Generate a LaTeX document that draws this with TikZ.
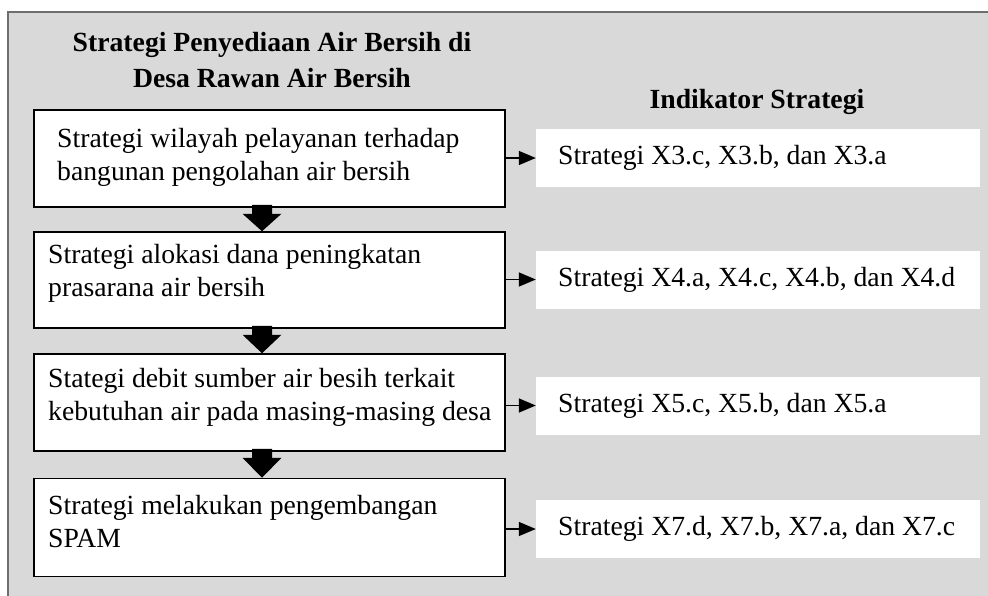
\documentclass[tikz,border=0pt]{standalone}
\usepackage{fontspec}
\setmainfont{Liberation Serif}
\usetikzlibrary{arrows.meta,calc}
\definecolor{bggrey}{HTML}{D9D9D9}
\definecolor{framegrey}{HTML}{6E6E6E}
\tikzset{
  lbox/.style={draw=black, line width=1.5pt, fill=white, minimum width=471pt, minimum height=#1, inner sep=0pt},
  rbox/.style={draw=none, fill=white, minimum width=444pt, minimum height=58pt, inner sep=0pt},
  txt/.style={anchor=west, align=left, inner sep=0pt, font=\fontsize{27.7}{33}\selectfont},
  ttl/.style={align=center, inner sep=0pt, font=\fontsize{27.7}{36}\selectfont\bfseries},
  smallarrow/.style={line width=1.5pt, -{Triangle[length=17pt,width=14pt]}},
}
\newcommand\blockarrow[2]{%
  \fill[black] ([xshift=-17.5pt,yshift=3pt]#1.south) -- ([xshift=-17.5pt,yshift=-6pt]#1.south)
    -- ([xshift=-27pt,yshift=-6pt]#1.south) -- ([xshift=-7.5pt]#2.north)
    -- ([xshift=12pt,yshift=-6pt]#1.south) -- ([xshift=2.5pt,yshift=-6pt]#1.south)
    -- ([xshift=2.5pt,yshift=3pt]#1.south) -- cycle;}
\begin{document}
\begin{tikzpicture}[x=1pt,y=-1pt]
\clip (0,0) rectangle (988,595);
\fill[white] (0,0) rectangle (988,595);
\draw[draw=framegrey, line width=2pt, fill=bggrey] (8,12) rectangle (1010,620);

\node[ttl] (title) at (272,60) {Strategi Penyediaan Air Bersih di\\Desa Rawan Air Bersih};
\node[ttl] (ititle) at (757,102) {Indikator Strategi};

\node[lbox=97pt] (b1) at (269.5,158.5) {};
\node[lbox=96pt] (b2) at (269.5,280) {};
\node[lbox=97pt] (b3) at (269.5,402.5) {};
\node[lbox=98pt] (b4) at (269.5,527.5) {};

\node[txt] (t1) at (57,157) {Strategi wilayah pelayanan terhadap\\bangunan pengolahan air bersih};
\node[txt] (t2) at (48,273) {Strategi alokasi dana peningkatan\\prasarana air bersih};
\node[txt] (t3) at (48,397) {Stategi debit sumber air besih terkait\\kebutuhan air pada masing-masing desa};
\node[txt] (t4) at (48,522) {Strategi melakukan pengembangan\\SPAM};

\node[rbox] (r1) at (758,158) {};
\node[rbox] (r2) at (758,279.5) {};
\node[rbox] (r3) at (758,405.5) {};
\node[rbox] (r4) at (758,529) {};

\node[txt] (s1) at (558,158) {Strategi X3.c, X3.b, dan X3.a};
\node[txt] (s2) at (558,279.5) {Strategi X4.a, X4.c, X4.b, dan X4.d};
\node[txt] (s3) at (558,405.5) {Strategi X5.c, X5.b, dan X5.a};
\node[txt] (s4) at (558,529) {Strategi X7.d, X7.b, X7.a, dan X7.c};

\blockarrow{b1}{b2}
\blockarrow{b2}{b3}
\blockarrow{b3}{b4}

\draw[smallarrow] (b1.east |- r1.west) -- (r1.west);
\draw[smallarrow] (b2.east |- r2.west) -- (r2.west);
\draw[smallarrow] (b3.east |- r3.west) -- (r3.west);
\draw[smallarrow] (b4.east |- r4.west) -- (r4.west);
\end{tikzpicture}
\end{document}
